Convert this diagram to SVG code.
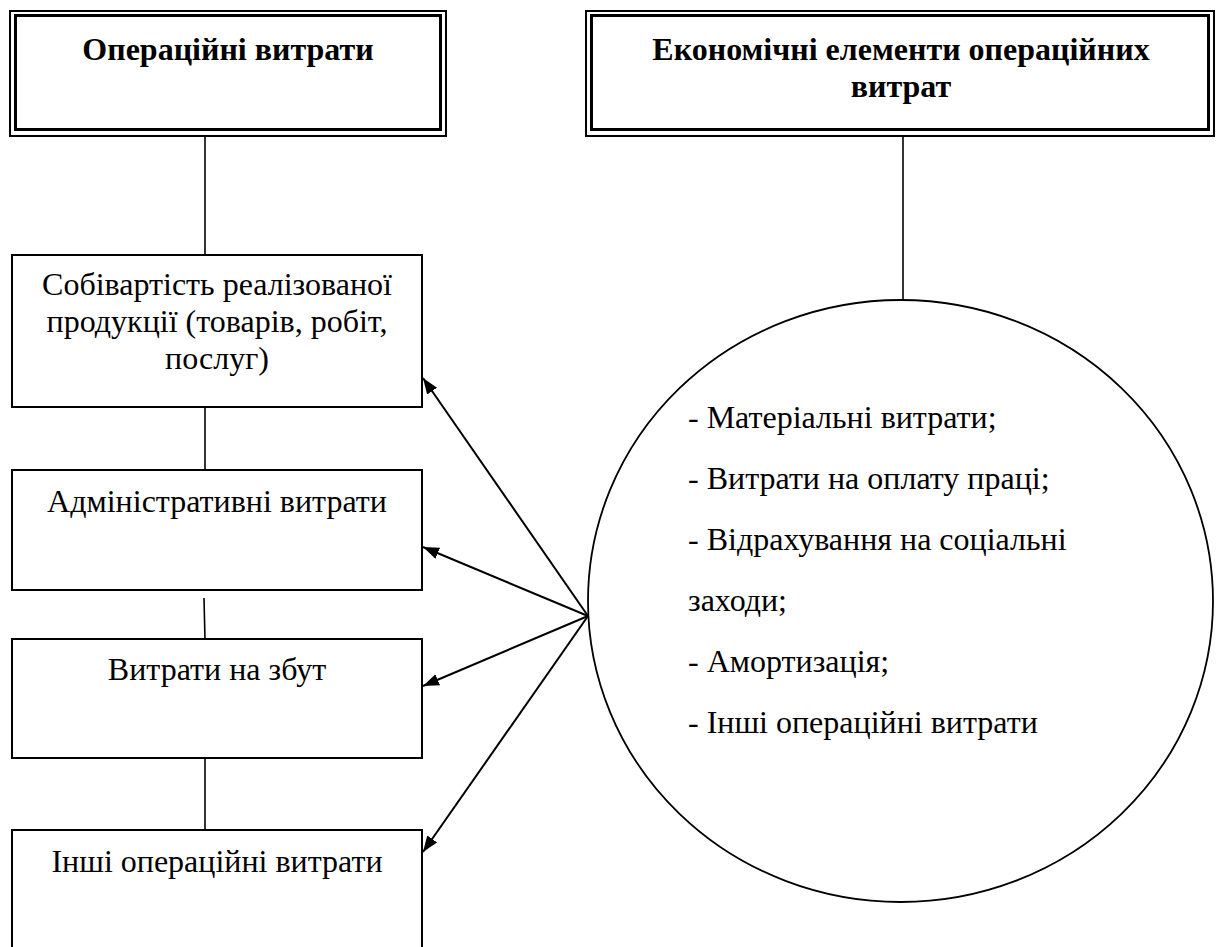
<svg xmlns="http://www.w3.org/2000/svg" width="1218" height="947" viewBox="0 0 1218 947">
  <style>
    .bg { fill: #ffffff; }
    .box { fill: #ffffff; stroke: #000000; stroke-width: 2; }
    .outer { fill: none; stroke: #000000; stroke-width: 2; }
    .inner { fill: none; stroke: #000000; stroke-width: 3; }
    .line { fill: none; stroke: #000000; stroke-width: 1.6; }
    .arrow { fill: none; stroke: #000000; stroke-width: 2; marker-end: url(#head); }
    .circle { fill: #ffffff; stroke: #000000; stroke-width: 1.8; }
    .title { font-weight: bold; font-size: 32px; text-anchor: middle; fill: #000000; }
    .label { font-size: 32px; text-anchor: middle; fill: #000000; }
    .item { font-size: 32px; fill: #000000; }
  </style>
  <defs>
    <marker id="head" markerUnits="userSpaceOnUse" markerWidth="18" markerHeight="14" refX="16" refY="6" orient="auto">
      <path d="M0,0 L16,6 L0,12 Z" fill="#000000"/>
    </marker>
  </defs>

  <rect class="bg" x="0" y="0" width="1218" height="947"/>

  <!-- connectors -->
  <g id="connectors">
    <line class="line" x1="205" y1="136" x2="205" y2="255"/>
    <line class="line" x1="903" y1="136" x2="903" y2="300"/>
    <line class="line" x1="205" y1="398" x2="205" y2="470"/>
    <line class="line" x1="204" y1="598" x2="205" y2="640"/>
    <line class="line" x1="205" y1="758" x2="205" y2="830"/>
    <line class="arrow" x1="588" y1="616" x2="423" y2="378"/>
    <line class="arrow" x1="588" y1="616" x2="423" y2="547"/>
    <line class="arrow" x1="588" y1="616" x2="423" y2="686"/>
    <line class="arrow" x1="588" y1="616" x2="423" y2="852"/>
  </g>

  <g font-family="Liberation Serif, Times New Roman, serif">
    <!-- header: operating costs -->
    <g id="node-operating-costs">
      <rect class="outer" x="10" y="11" width="436" height="125"/>
      <rect class="inner" x="15.5" y="15.5" width="425" height="114"/>
      <text class="title" x="228" y="60">Операційні витрати</text>
    </g>

    <!-- header: economic elements -->
    <g id="node-economic-elements">
      <rect class="outer" x="586" y="11" width="628" height="125"/>
      <rect class="inner" x="591.5" y="15.5" width="617" height="114"/>
      <text class="title" x="901" y="60">Економічні елементи операційних</text>
      <text class="title" x="901" y="97">витрат</text>
    </g>

    <g id="node-cost-of-sales">
      <rect class="box" x="12" y="255" width="410" height="152"/>
      <text class="label" x="217" y="295">Собівартість реалізованої</text>
      <text class="label" x="217" y="332">продукції (товарів, робіт,</text>
      <text class="label" x="217" y="369">послуг)</text>
    </g>

    <g id="node-admin-costs">
      <rect class="box" x="12" y="470" width="410" height="120"/>
      <text class="label" x="217" y="512">Адміністративні витрати</text>
    </g>

    <g id="node-sales-costs">
      <rect class="box" x="12" y="639" width="410" height="119"/>
      <text class="label" x="217" y="680">Витрати на збут</text>
    </g>

    <g id="node-other-costs">
      <rect class="box" x="12" y="830" width="410" height="130"/>
      <text class="label" x="217" y="872">Інші операційні витрати</text>
    </g>

    <g id="node-elements-list">
      <ellipse class="circle" cx="900.5" cy="601" rx="312.5" ry="301"/>
      <text class="item" x="688" y="428">- Матеріальні витрати;</text>
      <text class="item" x="688" y="489">- Витрати на оплату праці;</text>
      <text class="item" x="688" y="550">- Відрахування на соціальні</text>
      <text class="item" x="688" y="611">заходи;</text>
      <text class="item" x="688" y="672">- Амортизація;</text>
      <text class="item" x="688" y="733">- Інші операційні витрати</text>
    </g>
  </g>
</svg>
